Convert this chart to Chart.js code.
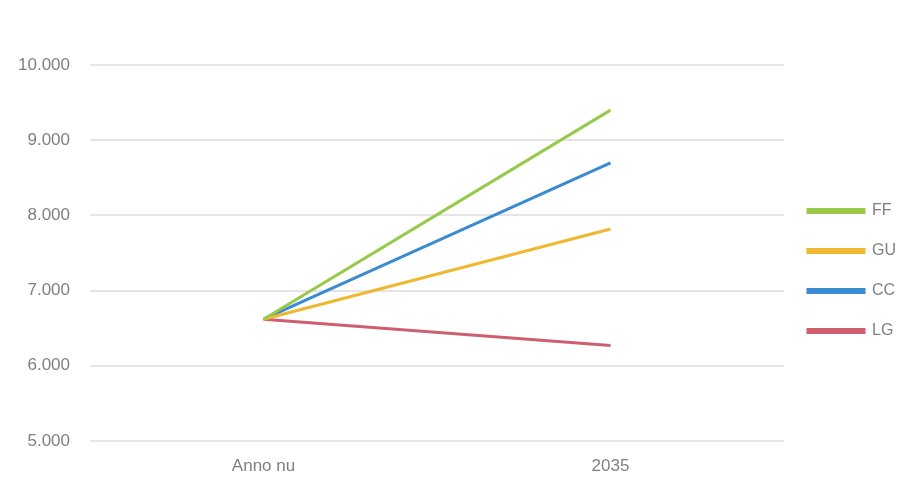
<!DOCTYPE html>
<html>
<head>
<meta charset="utf-8">
<script src="https://cdn.jsdelivr.net/npm/chart.js@4"></script>
<style>
  html, body { margin: 0; padding: 0; background: #ffffff; overflow: hidden; }
  #wrap { width: 899px; height: 477px; position: relative; }
</style>
</head>
<body>
<div id="wrap"><canvas id="c"></canvas></div>
<script>
// Categories on the x axis
const categories = ['Anno nu', '2035'];

// Scenario values (today, 2035)
const ffValues = [6620, 9400];
const guValues = [6620, 7820];
const ccValues = [6620, 8700];
const lgValues = [6620, 6270];

// Y axis range and step
const yMin = 5000;
const yMax = 10000;
const yStep = 1000;

// Thousands separator as a dot (10.000)
const fmt = v => v.toLocaleString('de-DE');

const series = [
  { label: 'FF', data: ffValues, color: '#98C94A' },
  { label: 'GU', data: guValues, color: '#F0B830' },
  { label: 'CC', data: ccValues, color: '#3A8BD2' },
  { label: 'LG', data: lgValues, color: '#CD5F6E' }
];

const axisFont = { family: 'Liberation Sans', size: 17 };
const textGrey = '#808080';

new Chart(document.getElementById('c'), {
  type: 'line',
  data: {
    labels: categories,
    datasets: series.map(s => ({
      label: s.label,
      data: s.data,
      borderColor: s.color,
      backgroundColor: s.color,
      borderWidth: 3,
      pointRadius: 0,
      tension: 0,
      fill: false
    }))
  },
  options: {
    responsive: true,
    maintainAspectRatio: false,
    animation: false,
    devicePixelRatio: 1,
    layout: { padding: { top: 65, left: 0, right: -7, bottom: 0 } },
    plugins: {
      tooltip: { enabled: false },
      legend: {
        position: 'right',
        labels: {
          boxWidth: 56,
          boxHeight: 3,
          padding: 24,
          color: textGrey,
          font: { family: 'Liberation Sans', size: 16 }
        }
      }
    },
    scales: {
      x: {
        offset: true,
        grid: { display: false, drawTicks: false },
        border: { display: false },
        ticks: { padding: 15, color: textGrey, font: axisFont },
        afterFit: s => { s.height = 36; }
      },
      y: {
        min: yMin,
        max: yMax,
        grid: { color: '#e4e4e4', lineWidth: 2, drawTicks: false },
        border: { display: false },
        ticks: {
          stepSize: yStep,
          padding: 20,
          color: textGrey,
          font: axisFont,
          callback: v => fmt(v)
        },
        afterFit: s => { s.width = 90; }
      }
    }
  }
});
</script>
</body>
</html>
